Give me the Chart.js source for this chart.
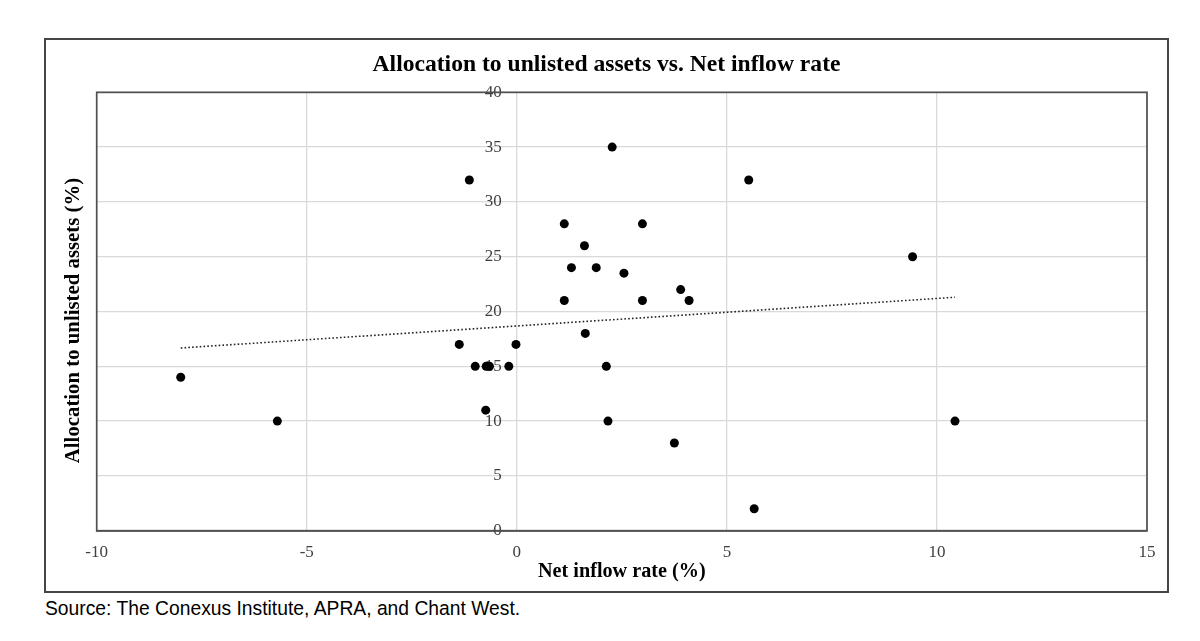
<!DOCTYPE html>
<html><head><meta charset="utf-8">
<script src="https://cdn.jsdelivr.net/npm/chart.js@4.4.0/dist/chart.umd.min.js"></script>
<style>
html,body{margin:0;padding:0;background:#fff;width:1200px;height:641px;overflow:hidden;}
#frame{position:absolute;left:44px;top:38px;width:1121px;height:551px;border:2px solid #454545;}
#c{display:block;}
#source{position:absolute;left:45px;top:599px;font-family:"Liberation Sans",Arial,sans-serif;font-size:19.3px;line-height:19px;color:#000;white-space:nowrap;}
</style></head><body>
<div id="frame"><canvas id="c" width="1121" height="551"></canvas></div>
<div id="source">Source: The Conexus Institute, APRA, and Chant West.</div>
<script>
// Data
const netInflow  = [-8.0, -5.7, -1.37, -1.13, -0.99, -0.73, -0.65, -0.74, -0.19, -0.02,
                    1.13, 1.13, 1.30, 1.61, 1.63, 1.89, 2.13, 2.17, 2.27, 2.55,
                    2.99, 2.99, 3.75, 3.90, 4.10, 5.52, 5.65, 9.42, 10.43];
const allocation = [14, 10, 17, 32, 15, 15, 15, 11, 15, 17,
                    28, 21, 24, 26, 18, 24, 15, 10, 35, 23.5,
                    28, 21, 8, 22, 21, 32, 2, 25, 10];
const trendX = [-8.0, 10.43];
const trendY = [16.67, 21.3];
const xTickValues = [-10, -5, 0, 5, 10, 15];
const yTickValues = [0, 5, 10, 15, 20, 25, 30, 35, 40];
const yTitleText = 'Allocation to unlisted assets (%)';

const serif = '"Liberation Serif", "Times New Roman", serif';

const plotBorder = {
  id: 'plotBorder',
  afterDraw(chart) {
    const {ctx, chartArea: a} = chart;
    ctx.save();
    ctx.strokeStyle = '#505050';
    ctx.lineWidth = 1.7;
    ctx.strokeRect(a.left, a.top, a.right - a.left, a.bottom - a.top);
    // vertical axis title
    ctx.fillStyle = '#000';
    ctx.font = 'bold 20.8px ' + serif;
    ctx.textAlign = 'center';
    ctx.textBaseline = 'middle';
    ctx.translate(28, (a.top + a.bottom) / 2 + 9);
    ctx.rotate(-Math.PI / 2);
    ctx.fillText(yTitleText, 0, 0);
    ctx.restore();
  }
};

new Chart(document.getElementById('c'), {
  data: {
    datasets: [
      {
        type: 'scatter',
        data: netInflow.map((x, i) => ({x: x, y: allocation[i]})),
        backgroundColor: '#000',
        borderWidth: 0,
        pointRadius: 4.5,
        pointHoverRadius: 4.5,
        order: 1
      },
      {
        type: 'line',
        data: trendX.map((x, i) => ({x: x, y: trendY[i]})),
        borderColor: '#222',
        borderWidth: 1.6,
        borderDash: [1.6, 2.2],
        pointRadius: 0,
        fill: false,
        order: 2
      }
    ]
  },
  options: {
    responsive: false,
    animation: false,
    layout: {padding: 0},
    plugins: {
      legend: {display: false},
      tooltip: {enabled: false},
      title: {
        display: true,
        text: 'Allocation to unlisted assets vs. Net inflow rate',
        color: '#000',
        font: {family: serif, size: 23.6, weight: 'bold'},
        padding: {top: 11, bottom: 13}
      }
    },
    scales: {
      x: {
        type: 'linear',
        min: -10, max: 15,
        afterBuildTicks: s => { s.ticks = xTickValues.map(v => ({value: v})); },
        ticks: {color: '#404040', font: {family: serif, size: 17}, padding: 11.4},
        grid: {color: '#d9d9d9', lineWidth: 1.3, drawTicks: false},
        border: {display: true, color: '#505050', width: 1.7},
        title: {display: true, text: 'Net inflow rate (%)', color: '#000',
                font: {family: serif, size: 20.2, weight: 'bold'}, padding: {top: 0, bottom: 7}},
        afterFit: s => { s.height = 60.3; }
      },
      y: {
        type: 'linear',
        min: 0, max: 40,
        position: {x: -0.36},
        afterBuildTicks: s => { s.ticks = yTickValues.map(v => ({value: v})); },
        ticks: {color: '#404040', font: {family: serif, size: 17}},
        grid: {color: '#d9d9d9', lineWidth: 1.3, drawTicks: false},
        border: {display: false}
      },
      yLeftSpace: {
        type: 'linear',
        min: 0, max: 40,
        position: 'left',
        ticks: {display: false},
        grid: {display: false, drawTicks: false},
        border: {display: false},
        afterFit: s => { s.width = 50.7; }
      },
      yRightSpace: {
        type: 'linear',
        min: 0, max: 40,
        position: 'right',
        ticks: {display: false},
        grid: {display: false, drawTicks: false},
        border: {display: false},
        afterFit: s => { s.width = 20; }
      }
    }
  },
  plugins: [plotBorder]
});
</script>
</body></html>
